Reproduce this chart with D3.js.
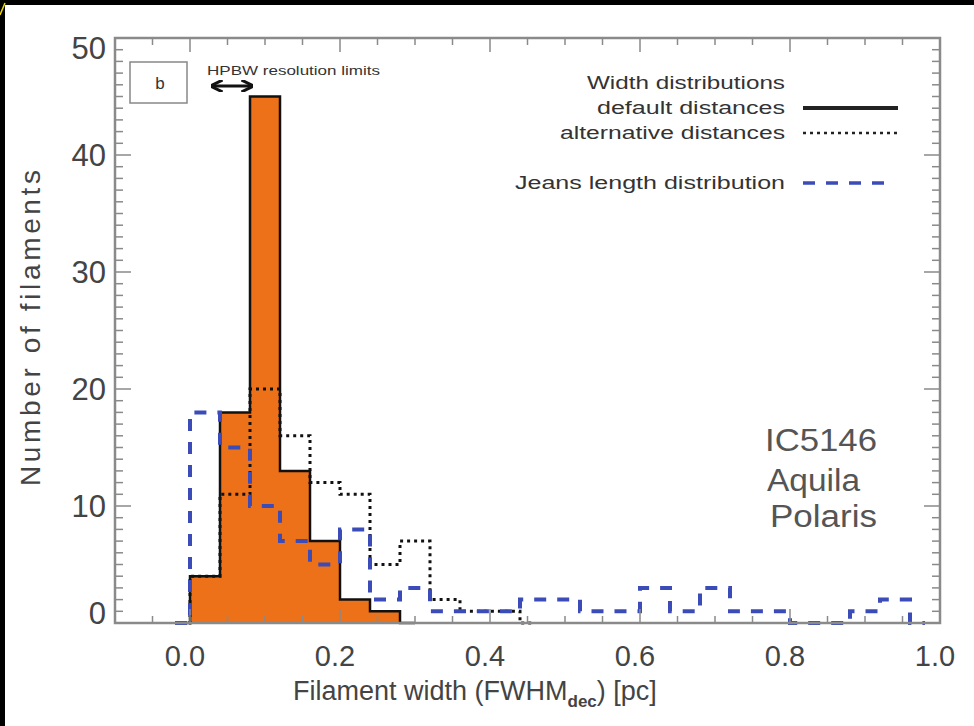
<!DOCTYPE html>
<html>
<head>
<meta charset="utf-8">
<script src="https://cdn.jsdelivr.net/npm/d3@7"></script>
<style>
  html, body { margin: 0; padding: 0; background: #fff; }
  svg { display: block; }
  text { font-family: "Liberation Sans", "DejaVu Sans", sans-serif; }
</style>
</head>
<body>
<svg id="chart" width="974" height="726"></svg>
<script>
// ---------------- data ----------------
const binCenters = [-0.02, 0.02, 0.06, 0.10, 0.14, 0.18, 0.22, 0.26, 0.30, 0.34, 0.38, 0.42, 0.46,
                    0.50, 0.54, 0.58, 0.62, 0.66, 0.70, 0.74, 0.78, 0.82, 0.86, 0.90, 0.94, 0.98];
const defaultCounts     = [0, 4, 18, 45, 13, 7, 2, 1, 0];            // width distribution, default distances
const alternativeCounts = [0, 4, 11, 20, 16, 12, 11, 5, 7, 2, 1, 1, 0]; // alternative distances
const jeansCounts       = [0, 18, 15, 10, 7, 5, 8, 2, 3, 1, 1, 1, 2, 2, 1, 1, 3, 1, 3, 1, 1, 0, 0, 1, 2, 0];
const xTicks = [0.0, 0.2, 0.4, 0.6, 0.8, 1.0];
const yTicks = [0, 10, 20, 30, 40, 50];
const legendItems = ["default distances", "alternative distances", "Jeans length distribution"];
const regionNames = ["IC5146", "Aquila", "Polaris"];
const hpbwRange = [0.029, 0.083];

// ---------------- setup ----------------
const svg = d3.select("#chart");
const W = 974, H = 726;
svg.append("rect").attr("width", W).attr("height", H).attr("fill", "#fff");
// black border strips of the original picture
svg.append("rect").attr("x", 0).attr("y", 0).attr("width", W).attr("height", 5).attr("fill", "#000");
svg.append("rect").attr("x", 0).attr("y", 0).attr("width", 5).attr("height", H).attr("fill", "#000");
svg.append("line").attr("x1", 0).attr("y1", 15).attr("x2", 5).attr("y2", 3)
   .attr("stroke", "#f0d800").attr("stroke-width", 1.5);

const x = d3.scaleLinear().domain([-0.1, 1.0]).range([115, 940]);
const y = d3.scaleLinear().domain([0, 50]).range([623, 38]);

const pts = counts => counts.map((c, i) => [binCenters[i], c]);

const stepLine = d3.line().x(d => x(d[0])).y(d => y(d[1])).curve(d3.curveStep);
const stepArea = d3.area().x(d => x(d[0])).y0(y(0)).y1(d => y(d[1])).curve(d3.curveStep);

const plot = svg.append("g");
svg.append("clipPath").attr("id", "plotclip")
  .append("rect").attr("x", 115).attr("y", 38).attr("width", 825).attr("height", 590);

// orange fill
plot.append("path").datum(pts(defaultCounts))
  .attr("d", stepArea).attr("fill", "#EC7119").attr("stroke", "none");
// solid outline
plot.append("path").datum(pts(defaultCounts))
  .attr("d", stepLine).attr("fill", "none").attr("stroke", "#111").attr("stroke-width", 2.5);
// dotted alternative
plot.append("path").datum(pts(alternativeCounts))
  .attr("d", stepLine).attr("fill", "none").attr("stroke", "#111").attr("stroke-width", 3)
  .attr("stroke-dasharray", "3,4");
// blue dashed Jeans
plot.append("path").datum(pts(jeansCounts))
  .attr("d", stepLine).attr("fill", "none").attr("stroke", "#3B4CB8").attr("stroke-width", 4)
  .attr("stroke-dasharray", "12,11").attr("clip-path", "url(#plotclip)");

// ---------------- frame & ticks ----------------
const frameColor = "#8a8a8a";
const axG = svg.append("g").attr("stroke", frameColor).attr("stroke-width", 1.5);
axG.append("rect").attr("x", 115).attr("y", 38).attr("width", 825).attr("height", 585)
  .attr("fill", "none").attr("stroke-width", 2.5);

// y ticks (left & right)
const yMinor = d3.range(0, 51, 1);
yMinor.forEach(v => {
  const major = v % 10 === 0;
  const len = major ? 16 : 8;
  axG.append("line").attr("x1", 115).attr("x2", 115 + len).attr("y1", y(v)).attr("y2", y(v));
  axG.append("line").attr("x1", 940).attr("x2", 940 - len).attr("y1", y(v)).attr("y2", y(v));
});
// x ticks (bottom & top)
const xMinor = d3.range(-0.1, 1.0001, 0.05).map(v => Math.round(v * 100) / 100);
xMinor.forEach(v => {
  const major = Math.abs(Math.round(v * 10) - v * 10) < 1e-6 && Math.round(v * 10) % 2 === 0;
  const len = major ? 14 : 7;
  axG.append("line").attr("x1", x(v)).attr("x2", x(v)).attr("y1", 623).attr("y2", 623 - len);
  axG.append("line").attr("x1", x(v)).attr("x2", x(v)).attr("y1", 38).attr("y2", 38 + len);
});

// tick labels
const labColor = "#444";
yTicks.forEach(v => {
  let yy = y(v);
  if (v === 50) yy += 10;
  if (v === 0) yy -= 10;
  svg.append("text").attr("x", 106).attr("y", yy).attr("dy", "0.36em")
    .attr("text-anchor", "end").attr("font-size", 31).attr("fill", labColor).text(d3.format("d")(v));
});
xTicks.forEach(v => {
  svg.append("text").attr("x", x(v) - 5).attr("y", 666)
    .attr("text-anchor", "middle").attr("font-size", 29).attr("fill", labColor).text(d3.format(".1f")(v));
});

// axis titles
svg.append("text").attr("transform", "translate(40,328) rotate(-90)")
  .attr("text-anchor", "middle").attr("font-size", 28).attr("fill", labColor)
  .attr("textLength", 316).attr("lengthAdjust", "spacing")
  .text("Number of filaments");
const xt = svg.append("text").attr("x", 293).attr("y", 700).attr("font-size", 27).attr("fill", labColor);
xt.append("tspan").text("Filament width (FWHM");
xt.append("tspan").attr("font-size", 17).attr("font-weight", "bold").attr("dy", 7).text("dec");
xt.append("tspan").attr("dy", -7).text(") [pc]");

// ---------------- annotations ----------------
// panel label box
svg.append("rect").attr("x", 130).attr("y", 62).attr("width", 57).attr("height", 41)
  .attr("fill", "#fff").attr("stroke", "#888").attr("stroke-width", 1.5);
svg.append("text").attr("x", 160).attr("y", 83).attr("dy", "0.36em").attr("text-anchor", "middle")
  .attr("font-size", 17).attr("fill", "#333").text("b");

// HPBW annotation
svg.append("text").attr("x", 207).attr("y", 75).attr("font-size", 12.5).attr("fill", "#333")
  .attr("textLength", 173).attr("lengthAdjust", "spacingAndGlyphs").text("HPBW resolution limits");
const defs = svg.append("defs");
defs.append("marker").attr("id", "ah").attr("viewBox", "0 0 10 10").attr("refX", 9).attr("refY", 5)
  .attr("markerWidth", 4).attr("markerHeight", 4).attr("orient", "auto-start-reverse")
  .append("path").attr("d", "M0,0 L10,5 L0,10").attr("fill", "none").attr("stroke", "#111").attr("stroke-width", 2.5);
svg.append("line").attr("x1", x(hpbwRange[0])).attr("x2", x(hpbwRange[1])).attr("y1", 86).attr("y2", 86)
  .attr("stroke", "#111").attr("stroke-width", 3)
  .attr("marker-start", "url(#ah)").attr("marker-end", "url(#ah)");

// legend
const legColor = "#333";
svg.append("text").attr("x", 785).attr("y", 83).attr("dy", "0.36em").attr("text-anchor", "end")
  .attr("font-size", 17.5).attr("fill", legColor).attr("textLength", 198).attr("lengthAdjust", "spacingAndGlyphs")
  .text("Width distributions");
const legRows = [
  {label: legendItems[0], y: 108, len: 188, dash: null, color: "#222", w: 4, x2: 898},
  {label: legendItems[1], y: 133, len: 225, dash: "3,4", color: "#222", w: 2.5, x2: 898},
  {label: legendItems[2], y: 183, len: 270, dash: "12,11", color: "#3B4CB8", w: 3.5, x2: 887}
];
legRows.forEach(r => {
  svg.append("text").attr("x", 785).attr("y", r.y).attr("dy", "0.36em").attr("text-anchor", "end")
    .attr("font-size", 17.5).attr("fill", legColor).attr("textLength", r.len).attr("lengthAdjust", "spacingAndGlyphs")
    .text(r.label);
  const ln = svg.append("line").attr("x1", 803).attr("x2", r.x2).attr("y1", r.y).attr("y2", r.y)
    .attr("stroke", r.color).attr("stroke-width", r.w);
  if (r.dash) ln.attr("stroke-dasharray", r.dash);
});

// region names
const regionPos = [{x: 765, y: 440, len: 112}, {x: 767, y: 480, len: 93}, {x: 770, y: 516, len: 107}];
regionNames.forEach((n, i) => {
  svg.append("text").attr("x", regionPos[i].x).attr("y", regionPos[i].y).attr("dy", "0.36em")
    .attr("font-size", 31).attr("fill", "#555").attr("textLength", regionPos[i].len)
    .attr("lengthAdjust", "spacingAndGlyphs").text(n);
});
</script>
</body>
</html>
